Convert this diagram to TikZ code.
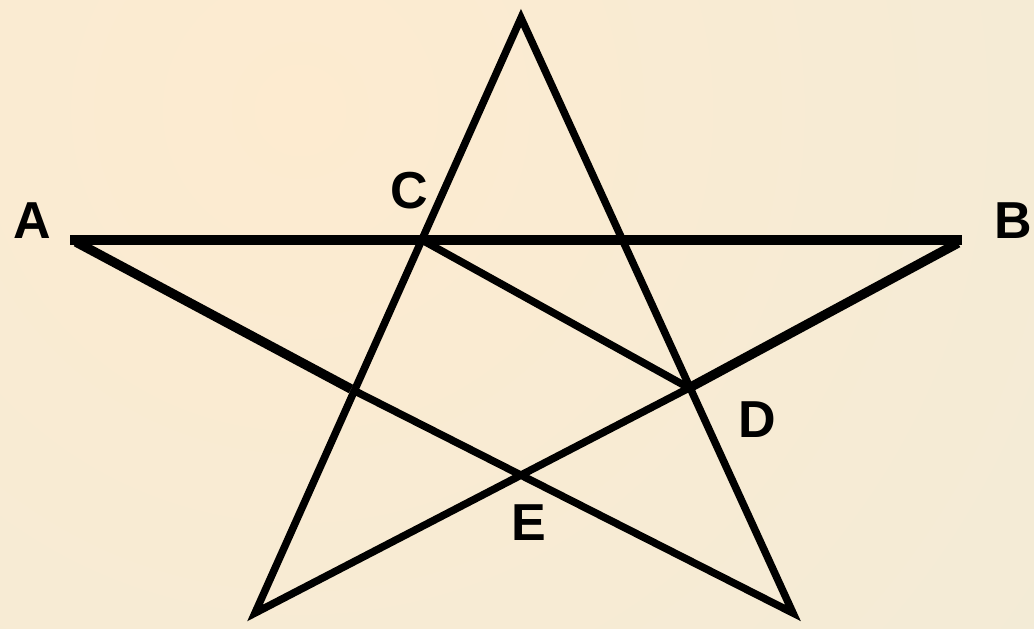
\documentclass[tikz,border=0pt]{standalone}
\usepackage{fontspec}
\setmainfont{Liberation Sans}
\definecolor{bgin}{HTML}{FDEBD0}
\definecolor{bgout}{HTML}{F1EBD8}
\begin{document}
\begin{tikzpicture}[x=1pt,y=-1pt,
  lab/.style={font=\fontsize{52}{52}\selectfont\bfseries, inner sep=0pt},
  thick line/.style={line width=9.5pt, line cap=butt},
  thin line/.style={line width=7.5pt, line join=miter}]
\useasboundingbox (0,0) rectangle (1034,629);
\begin{scope}
\clip (0,0) rectangle (1034,629);
\fill[bgout] (0,0) rectangle (1034,629);
\shade[inner color=bgin, outer color=bgout] (300,110) circle (1100);
\end{scope}
% vertices
\coordinate (T) at (521,18);
\coordinate (A) at (70,240);
\coordinate (Ad) at (76,242);
\coordinate (B) at (962,240);
\coordinate (Bd) at (958,243);
\coordinate (L) at (255,613);
\coordinate (R) at (793,613);
\coordinate (C) at (422,240);
\coordinate (D) at (689,388);
\coordinate (F) at (351,389);
% lines
\draw[thick line] (A) -- (B);
\draw[thick line] (Ad) -- (F);
\draw[thick line] (Bd) -- (D);
\draw[thin line] (D) -- (L) -- (T) -- (R) -- (F);
\draw[thin line] (C) -- (D);
% labels
\node[lab] (la) at (32,221) {A};
\node[lab] (lb) at (1013,221) {B};
\node[lab] (lc) at (409,191) {C};
\node[lab] (ld) at (757,420) {D};
\node[lab] (le) at (529,523) {E};
\end{tikzpicture}
\end{document}
